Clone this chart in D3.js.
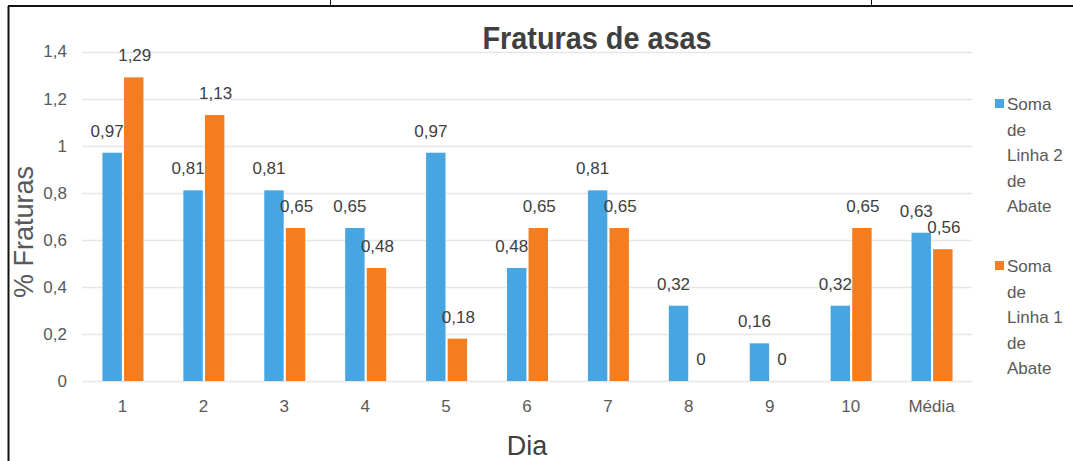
<!DOCTYPE html>
<html>
<head>
<meta charset="utf-8">
<script src="https://cdn.jsdelivr.net/npm/d3@7"></script>
<style>
  html, body { margin: 0; padding: 0; background: #fff; }
  svg { display: block; }
</style>
</head>
<body>
<div id="chart"></div>
<script>
// dados
const dias = ["1", "2", "3", "4", "5", "6", "7", "8", "9", "10", "Média"];
const linha2 = [0.97, 0.81, 0.81, 0.65, 0.97, 0.48, 0.81, 0.32, 0.16, 0.32, 0.63];
const linha1 = [1.29, 1.13, 0.65, 0.48, 0.18, 0.65, 0.65, 0, 0, 0.65, 0.56];
const yTicks = [0, 0.2, 0.4, 0.6, 0.8, 1, 1.2, 1.4];
const seriesNames = ["Soma de Linha 2 de Abate", "Soma de Linha 1 de Abate"];

const W = 1073, H = 461;
const margin = { left: 82, right: 101, top: 51.5, bottom: 80 };
const fmt = v => String(v).replace(".", ",");
const textColor = "#595959";
const font = "'Liberation Sans', Arial, sans-serif";
const colors = ["#47a6e2", "#f47d20"];

const svg = d3.select("#chart").append("svg")
    .attr("width", W)
    .attr("height", H)
    .style("font-family", font);

// moldura (borda da célula)
svg.append("line").attr("x1", 8).attr("x2", W).attr("y1", 6).attr("y2", 6)
    .attr("stroke", "#111").attr("stroke-width", 2);
svg.append("line").attr("x1", 8.5).attr("x2", 8.5).attr("y1", 6).attr("y2", H)
    .attr("stroke", "#111").attr("stroke-width", 2);
svg.append("line").attr("x1", 330.5).attr("x2", 330.5).attr("y1", 0).attr("y2", 6)
    .attr("stroke", "#111").attr("stroke-width", 1);
svg.append("line").attr("x1", 871.5).attr("x2", 871.5).attr("y1", 0).attr("y2", 6)
    .attr("stroke", "#111").attr("stroke-width", 1);

const x = d3.scaleBand()
    .domain(dias)
    .range([margin.left, 972])
    .paddingInner(0)
    .paddingOuter(0);

const y = d3.scaleLinear()
    .domain([0, 1.4])
    .range([381, margin.top]);

const xInner = d3.scaleBand()
    .domain([0, 1])
    .range([x.bandwidth() / 2 - 20, x.bandwidth() / 2 + 21])
    .paddingInner(0.1);

// linhas de grade
svg.append("g").selectAll("line")
    .data(yTicks)
    .join("line")
    .attr("x1", margin.left)
    .attr("x2", 972)
    .attr("y1", d => Math.round(y(d)) + 0.5)
    .attr("y2", d => Math.round(y(d)) + 0.5)
    .attr("stroke", "#e6e6e6")
    .attr("stroke-width", 1.5);

// eixo y
const yAxis = svg.append("g")
    .attr("transform", `translate(${margin.left - 15},0)`)
    .call(d3.axisLeft(y).tickValues(yTicks).tickFormat(fmt).tickSize(0).tickPadding(0));
yAxis.select(".domain").remove();
yAxis.selectAll("text")
    .attr("fill", textColor)
    .style("font-size", "17px")
    .style("font-family", font);

// eixo x
const xAxis = svg.append("g")
    .attr("transform", `translate(0,${y(0)})`)
    .call(d3.axisBottom(x).tickSize(0).tickPadding(19));
xAxis.select(".domain").remove();
xAxis.selectAll("text")
    .attr("fill", textColor)
    .style("font-size", "17px")
    .style("font-family", font);

// barras
const groups = svg.append("g").selectAll("g")
    .data(dias.map((d, i) => ({ dia: d, vals: [linha2[i], linha1[i]] })))
    .join("g")
    .attr("transform", d => `translate(${x(d.dia)},0)`);

groups.selectAll("rect")
    .data(d => d.vals.map((v, k) => ({ v, k })))
    .join("rect")
    .attr("x", d => xInner(d.k))
    .attr("width", xInner.bandwidth())
    .attr("y", d => y(d.v))
    .attr("height", d => y(0) - y(d.v))
    .attr("fill", d => colors[d.k]);

groups.selectAll("text")
    .data(d => d.vals.map((v, k) => ({ v, k })))
    .join("text")
    .attr("x", d => xInner(d.k) + xInner.bandwidth() / 2 + (d.k === 0 ? -5 : 1))
    .attr("y", d => y(d.v) - 16)
    .attr("text-anchor", "middle")
    .attr("fill", "#404040")
    .style("font-size", "17px")
    .text(d => fmt(d.v));

// título
svg.append("text")
    .attr("x", 0)
    .attr("y", 0)
    .attr("transform", "translate(597,49) scale(0.93,1)")
    .attr("text-anchor", "middle")
    .attr("fill", "#404040")
    .style("font-size", "31px")
    .style("font-weight", "bold")
    .text("Fraturas de asas");

// títulos dos eixos
svg.append("text")
    .attr("transform", "translate(33,232) rotate(-90)")
    .attr("text-anchor", "middle")
    .attr("fill", textColor)
    .style("font-size", "27px")
    .text("% Fraturas");

svg.append("text")
    .attr("x", 527)
    .attr("y", 455)
    .attr("text-anchor", "middle")
    .attr("fill", "#404040")
    .style("font-size", "27px")
    .text("Dia");

// legenda
const legendWords = seriesNames.map(s => s.replace("Linha ", "Linha\u00a0").split(" "));
const legend = svg.append("g");
const lineH = 25.6;
const legendTop = [104, 266];
legendWords.forEach((words, k) => {
    const g = legend.append("g");
    g.append("rect")
        .attr("x", 995)
        .attr("y", legendTop[k] - 5)
        .attr("width", 9)
        .attr("height", 9)
        .attr("fill", colors[k]);
    g.append("text")
        .attr("fill", textColor)
        .style("font-size", "17px")
        .selectAll("tspan")
        .data(words)
        .join("tspan")
        .attr("x", 1007)
        .attr("y", (d, i) => legendTop[k] + 6 + i * lineH)
        .text(d => d);
});
</script>
</body>
</html>
